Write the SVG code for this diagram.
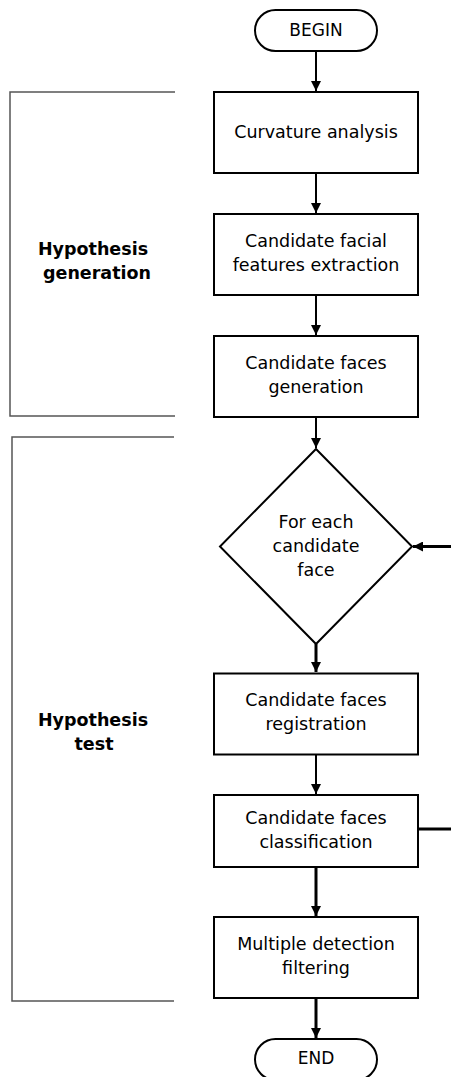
<svg xmlns="http://www.w3.org/2000/svg" width="451" height="1077" viewBox="0 0 451 1077">
<style>
.n{fill:#fff;stroke:#000;stroke-width:2}
.t{font-family:"DejaVu Sans",sans-serif;font-size:17.5px;fill:#000;text-anchor:middle}
.b{font-family:"DejaVu Sans",sans-serif;font-size:17.5px;font-weight:bold;fill:#000;text-anchor:middle}
.c{fill:none;stroke:#000;stroke-width:2}
.k{fill:none;stroke:#000;stroke-width:3}
.br{fill:none;stroke:#555;stroke-width:1.5}
</style>
<defs>
<marker id="a" viewBox="0 0 10 10" refX="10" refY="5" markerWidth="10" markerHeight="10" markerUnits="userSpaceOnUse" orient="auto">
<path d="M0,0 L10,5 L0,10 z" fill="#000"/>
</marker>
</defs>
<rect width="451" height="1077" fill="#fff"/>
<g id="brackets">
<polyline class="br" points="175,92 10,92 10,416 175,416"/>
<polyline class="br" points="174,437 12,437 12,1001 174,1001"/>
<text class="b" x="93" y="255">Hypothesis</text>
<text class="b" x="97" y="279">generation</text>
<text class="b" x="93" y="726">Hypothesis</text>
<text class="b" x="94" y="750">test</text>
</g>
<g id="connectors">
<line class="c" x1="316" y1="52" x2="316" y2="91" marker-end="url(#a)"/>
<line class="c" x1="316" y1="173" x2="316" y2="213" marker-end="url(#a)"/>
<line class="c" x1="316" y1="295" x2="316" y2="335" marker-end="url(#a)"/>
<line class="c" x1="316" y1="417" x2="316" y2="448" marker-end="url(#a)"/>
<line class="k" x1="316" y1="644" x2="316" y2="672" marker-end="url(#a)"/>
<line class="c" x1="316" y1="755" x2="316" y2="794" marker-end="url(#a)"/>
<line class="k" x1="316" y1="867" x2="316" y2="916" marker-end="url(#a)"/>
<line class="k" x1="316" y1="999" x2="316" y2="1038" marker-end="url(#a)"/>
<line class="k" x1="418" y1="829" x2="451" y2="829"/>
<line class="k" x1="451" y1="546.5" x2="413" y2="546.5" marker-end="url(#a)"/>
</g>
<g id="begin">
<rect class="n" x="255" y="10" width="122" height="41" rx="20.5"/>
<text class="t" x="316" y="36" style="font-size:17px">BEGIN</text>
</g>
<g id="curvature">
<rect class="n" x="214" y="92" width="204" height="81"/>
<text class="t" x="316" y="138">Curvature analysis</text>
</g>
<g id="features">
<rect class="n" x="214" y="214" width="204" height="81"/>
<text class="t" x="316" y="247">Candidate facial</text>
<text class="t" x="316" y="271">features extraction</text>
</g>
<g id="generation">
<rect class="n" x="214" y="336" width="204" height="81"/>
<text class="t" x="316" y="369">Candidate faces</text>
<text class="t" x="316" y="393">generation</text>
</g>
<g id="foreach">
<polygon class="n" points="316,449 412,546.5 316,644 220,546.5"/>
<text class="t" x="316" y="528">For each</text>
<text class="t" x="316" y="552">candidate</text>
<text class="t" x="316" y="576">face</text>
</g>
<g id="registration">
<rect class="n" x="214" y="673.5" width="204" height="81"/>
<text class="t" x="316" y="706">Candidate faces</text>
<text class="t" x="316" y="730">registration</text>
</g>
<g id="classification">
<rect class="n" x="214" y="795" width="204" height="72"/>
<text class="t" x="316" y="824">Candidate faces</text>
<text class="t" x="316" y="848">classification</text>
</g>
<g id="filtering">
<rect class="n" x="214" y="917" width="204" height="81"/>
<text class="t" x="316" y="950">Multiple detection</text>
<text class="t" x="316" y="974">filtering</text>
</g>
<g id="end">
<rect class="n" x="255" y="1039" width="122" height="41" rx="20.5"/>
<text class="t" x="316" y="1064" style="font-size:17px">END</text>
</g>
</svg>
